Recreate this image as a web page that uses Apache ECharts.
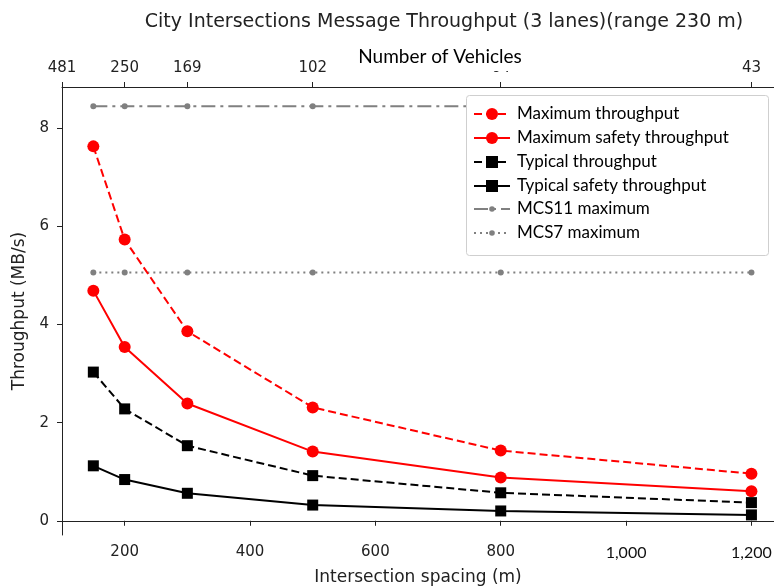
<!DOCTYPE html>
<html><head><meta charset="utf-8">
<script src="https://cdn.jsdelivr.net/npm/echarts@6/dist/echarts.min.js"></script>
<style>html,body{margin:0;padding:0;background:#fff}#c{width:774px;height:587px}</style>
</head><body><div id="c"></div>
<script>
const spacing = [150, 200, 300, 500, 800, 1200];
const maxThroughput = [7.63, 5.73, 3.86, 2.31, 1.43, 0.96];
const maxSafety = [4.69, 3.54, 2.39, 1.41, 0.88, 0.60];
const typThroughput = [3.03, 2.28, 1.53, 0.92, 0.57, 0.37];
const typSafety = [1.12, 0.84, 0.56, 0.32, 0.20, 0.12];
const mcs11 = [8.45, 8.45, 8.45, 8.45, 8.45, 8.45];
const mcs7 = [5.06, 5.06, 5.06, 5.06, 5.06, 5.06];
const bottomTicks = [200, 400, 600, 800, 1000, 1200];
const yTicks = [0, 2, 4, 6, 8];
const vehicleTicks = [100, 200, 300, 500, 800, 1200];
const vehicleLabels = ['481', '250', '169', '102', '64', '43'];

const pair = arr => spacing.map((x, i) => [x, arr[i]]);
const font = 'DejaVu Sans';
const lfont = 'Lato';

const chart = echarts.init(document.getElementById('c'), null, {renderer: 'canvas'});
chart.setOption({
  animation: false,
  backgroundColor: '#fff',
  title: [
    {text: 'City Intersections Message Throughput (3 lanes)(range 230 m)', left: 439, top: 8, textAlign: 'center',
     textStyle: {fontFamily: font, fontSize: 19, fontWeight: 'normal', color: '#222'}},
    {text: 'Number of Vehicles', left: 425, top: 40, textAlign: 'center', backgroundColor: '#fff',
     padding: [6, 15, 3, 15],
     textStyle: {fontFamily: lfont, fontSize: 19, fontWeight: 'normal', color: '#000', lineHeight: 22}}
  ],
  graphic: [
    {type: 'rect', left: 466, top: 95, shape: {width: 302, height: 160, r: 3},
     style: {fill: '#fff', stroke: '#cfcfcf', lineWidth: 1}, z: 50}
  ],
  grid: {left: 62, right: 0, top: 87, bottom: 52, containLabel: false, outerBoundsMode: 'none'},
  legend: [
    {orient: 'vertical', left: 473, top: 104, itemWidth: 36, itemHeight: 15, itemGap: 4,
     padding: 0, z: 60,
     textStyle: {fontFamily: lfont, fontSize: 17, color: '#000', lineHeight: 20, padding: [0, 0, 0, 2]},
     data: ['Maximum throughput', 'Maximum safety throughput', 'Typical throughput', 'Typical safety throughput']},
    {orient: 'vertical', left: 473, top: 199, itemWidth: 36, itemHeight: 7, itemGap: 4,
     padding: 0, z: 60,
     textStyle: {fontFamily: lfont, fontSize: 17, color: '#000', lineHeight: 20, padding: [0, 0, 0, 2]},
     data: ['MCS11 maximum', 'MCS7 maximum']}
  ],
  xAxis: [
    {type: 'value', position: 'bottom', min: 100, max: 1236,
     name: 'Intersection spacing (m)', nameLocation: 'middle', nameGap: 34,
     nameTextStyle: {fontFamily: font, fontSize: 17, color: '#222'},
     axisLine: {lineStyle: {color: '#222', width: 1}},
     axisTick: {show: true, customValues: bottomTicks, length: 5, lineStyle: {color: '#222'}},
     axisLabel: {customValues: bottomTicks, fontFamily: font, fontSize: 15, color: '#222', margin: 10,
       formatter: v => v >= 1000 ? '{c|' + v.toLocaleString('en-US') + '}' : String(v),
       rich: {c: {fontFamily: lfont, fontSize: 16, color: '#111'}}},
     splitLine: {show: false}},
    {type: 'value', position: 'top', min: 100, max: 1236,
     axisLine: {lineStyle: {color: '#222', width: 1}},
     axisTick: {show: true, customValues: vehicleTicks, length: 5, lineStyle: {color: '#222'}},
     axisLabel: {customValues: vehicleTicks, fontFamily: font, fontSize: 15, color: '#222', margin: 11,
       formatter: v => vehicleLabels[vehicleTicks.indexOf(v)]},
     splitLine: {show: false}},
  ],
  yAxis: {type: 'value', min: -0.29, max: 8.84,
    name: 'Throughput (MB/s)', nameLocation: 'middle', nameGap: 32,
    nameTextStyle: {fontFamily: font, fontSize: 17, color: '#222'},
    axisLine: {show: true, lineStyle: {color: '#222', width: 1}},
    axisTick: {show: true, customValues: yTicks, length: 5, lineStyle: {color: '#222'}},
    axisLabel: {customValues: yTicks, fontFamily: font, fontSize: 15, color: '#222', margin: 13},
    splitLine: {show: false}},
  series: [
    {name: 'MCS11 maximum', type: 'line', data: pair(mcs11), color: '#808080', symbol: 'circle', symbolSize: 6,
     lineStyle: {color: '#808080', width: 2, type: [14, 5, 3, 5]}, itemStyle: {color: '#808080'}, z: 1},
    {name: 'MCS7 maximum', type: 'line', data: pair(mcs7), color: '#808080', symbol: 'circle', symbolSize: 6,
     lineStyle: {color: '#808080', width: 2, type: [2, 4]}, itemStyle: {color: '#808080'}, z: 1},
    {name: 'Maximum throughput', type: 'line', data: pair(maxThroughput), color: '#ff0000', symbol: 'circle', symbolSize: 12,
     lineStyle: {color: '#ff0000', width: 2, type: [8, 4]}, itemStyle: {color: '#ff0000'}, z: 3},
    {name: 'Maximum safety throughput', type: 'line', data: pair(maxSafety), color: '#ff0000', symbol: 'circle', symbolSize: 12,
     lineStyle: {color: '#ff0000', width: 2}, itemStyle: {color: '#ff0000'}, z: 3},
    {name: 'Typical throughput', type: 'line', data: pair(typThroughput), color: '#000', symbol: 'rect', symbolSize: 11,
     lineStyle: {color: '#000', width: 2, type: [8, 4]}, itemStyle: {color: '#000'}, z: 3},
    {name: 'Typical safety throughput', type: 'line', data: pair(typSafety), color: '#000', symbol: 'rect', symbolSize: 11,
     lineStyle: {color: '#000', width: 2}, itemStyle: {color: '#000'}, z: 3}
  ]
});
</script></body></html>
